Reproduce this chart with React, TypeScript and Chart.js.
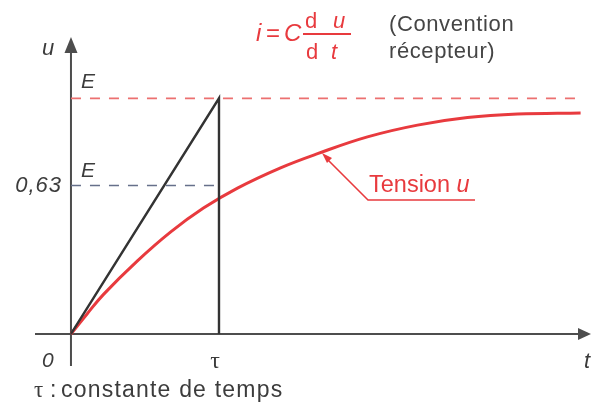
import { useEffect, useRef } from "react";
import { Chart, registerables } from "chart.js";

Chart.register(...registerables);

// Time in units of the time constant τ
const timeTau = [0, 0.11, 0.22, 0.449, 0.672, 0.895, 1.125, 1.416, 1.666, 2.003, 2.341, 2.679, 3.017, 3.443];
// Capacitor voltage u, in units of E
const tensionU = [0, 0.086, 0.168, 0.31, 0.432, 0.534, 0.619, 0.705, 0.765, 0.836, 0.886, 0.918, 0.933, 0.938];

// Tangent at the origin, then the vertical drop at t = τ
const tangentT = [0, 1, 1];
const tangentU = [0, 1, 0];

// Reference levels
const levelE = 1;
const level63 = 0.63;
const asymptoteEnd = 3.443;
const tauValue = 1;

const yTickLabels = ["E", "0,63"];
const xTickLabels = ["0", "τ"];

const RED = "rgb(232,58,62)";
const DASH_RED = "rgb(236,112,112)";
const INK = "#3c3c3c";
const AXIS = "#4d4d4d";

function pts(xs: number[], ys: number[]) {
  return xs.map((x, i) => ({ x, y: ys[i] }));
}

const SANS = '"Liberation Sans", Arial, Helvetica, sans-serif';
const SERIF = '"Liberation Serif", "DejaVu Serif", serif';

const decorations = {
  id: "rcDecorations",
  beforeDatasetsDraw(chart: any) {
    const { ctx, chartArea, scales } = chart;
    const x0 = scales.x.getPixelForValue(0);
    const y0 = scales.y.getPixelForValue(0);
    ctx.save();
    ctx.strokeStyle = AXIS;
    ctx.fillStyle = AXIS;
    ctx.lineWidth = 2;
    // horizontal axis with arrow
    ctx.beginPath();
    ctx.moveTo(chartArea.left, y0);
    ctx.lineTo(chartArea.right - 10, y0);
    ctx.stroke();
    ctx.beginPath();
    ctx.moveTo(chartArea.right - 1, y0);
    ctx.lineTo(chartArea.right - 14, y0 - 6);
    ctx.lineTo(chartArea.right - 14, y0 + 6);
    ctx.closePath();
    ctx.fill();
    // vertical axis with arrow
    ctx.beginPath();
    ctx.moveTo(x0, chartArea.bottom);
    ctx.lineTo(x0, chartArea.top + 10);
    ctx.stroke();
    ctx.beginPath();
    ctx.moveTo(x0, chartArea.top);
    ctx.lineTo(x0 - 6.5, chartArea.top + 16);
    ctx.lineTo(x0 + 6.5, chartArea.top + 16);
    ctx.closePath();
    ctx.fill();
    ctx.restore();
  },
  afterDatasetsDraw(chart: any) {
    const { ctx, scales } = chart;
    const xs = scales.x;
    const ys = scales.y;
    const x0 = xs.getPixelForValue(0);
    const y0 = ys.getPixelForValue(0);
    const yE = ys.getPixelForValue(levelE);
    const y63 = ys.getPixelForValue(level63);
    const xTau = xs.getPixelForValue(tauValue);
    const it = (s: number) => `italic ${s}px ${SANS}`;
    const rg = (s: number) => `${s}px ${SANS}`;

    ctx.save();
    ctx.textBaseline = "alphabetic";
    ctx.fillStyle = INK;

    // axis names
    ctx.font = it(22);
    ctx.textAlign = "left";
    ctx.fillText("u", x0 - 29, 55);
    ctx.fillText("t", 584, y0 + 34);

    // level labels
    ctx.font = it(21);
    ctx.fillText(yTickLabels[0], x0 + 10, yE - 10);
    ctx.fillText(yTickLabels[0], x0 + 10, y63 - 8);
    ctx.font = it(22);
    ctx.letterSpacing = "1px";
    ctx.textAlign = "right";
    ctx.fillText(yTickLabels[1], x0 - 9, y63 + 7);
    ctx.letterSpacing = "0px";

    // origin and τ
    ctx.textAlign = "left";
    ctx.font = it(21);
    ctx.fillText(xTickLabels[0], x0 - 29, y0 + 33);
    ctx.font = `24px ${SERIF}`;
    ctx.textAlign = "center";
    ctx.fillText(xTickLabels[1], xTau - 4, y0 + 34);

    // caption
    ctx.textAlign = "left";
    ctx.font = `23px ${SERIF}`;
    ctx.fillText("τ", 34, 397);
    ctx.font = rg(23);
    ctx.letterSpacing = "1.2px";
    ctx.fillText(":", 50, 397);
    ctx.fillText("constante de temps", 61, 397);
    ctx.letterSpacing = "0px";

    // formula i = C du/dt
    ctx.fillStyle = RED;
    ctx.strokeStyle = RED;
    ctx.font = it(24);
    ctx.fillText("i", 256, 41);
    ctx.font = rg(24);
    ctx.fillText("=", 266, 41);
    ctx.font = it(24);
    ctx.fillText("C", 284, 41);
    ctx.font = rg(22);
    ctx.fillText("d", 305, 28);
    ctx.fillText("d", 306, 59);
    ctx.font = it(22);
    ctx.fillText("u", 333, 28);
    ctx.fillText("t", 331, 59);
    ctx.lineWidth = 1.8;
    ctx.beginPath();
    ctx.moveTo(303, 34);
    ctx.lineTo(351, 34);
    ctx.stroke();

    // convention note
    ctx.fillStyle = "#454545";
    ctx.font = rg(22);
    ctx.letterSpacing = "0.6px";
    ctx.fillText("(Convention", 389, 31);
    ctx.fillText("récepteur)", 389, 58);
    ctx.letterSpacing = "0px";

    // curve label with leader
    ctx.fillStyle = RED;
    ctx.font = rg(23.5);
    ctx.fillText("Tension ", 369, 192);
    const w = ctx.measureText("Tension ").width;
    ctx.font = it(23.5);
    ctx.fillText("u", 369 + w, 192);
    ctx.lineWidth = 1.6;
    ctx.beginPath();
    ctx.moveTo(475, 200);
    ctx.lineTo(368, 200);
    ctx.lineTo(327, 159);
    ctx.stroke();
    ctx.beginPath();
    ctx.moveTo(322, 153);
    ctx.lineTo(332, 158);
    ctx.lineTo(327, 163);
    ctx.closePath();
    ctx.fill();
    ctx.restore();
  },
};

export default function App() {
  const ref = useRef<HTMLCanvasElement | null>(null);

  useEffect(() => {
    if (!ref.current) return;
    const chart = new Chart(ref.current, {
      type: "line",
      data: {
        datasets: [
          {
            label: "E",
            data: [
              { x: 0, y: levelE },
              { x: asymptoteEnd, y: levelE },
            ],
            borderColor: DASH_RED,
            borderWidth: 1.8,
            borderDash: [10, 9],
            pointRadius: 0,
          },
          {
            label: "0,63 E",
            data: [
              { x: 0, y: level63 },
              { x: tauValue, y: level63 },
            ],
            borderColor: "#66708a",
            borderWidth: 1.6,
            borderDash: [10, 9],
            pointRadius: 0,
          },
          {
            label: "Tangente",
            data: pts(tangentT, tangentU),
            borderColor: "#333333",
            borderWidth: 2.4,
            pointRadius: 0,
            tension: 0,
          },
          {
            label: "Tension u",
            data: pts(timeTau, tensionU),
            borderColor: RED,
            borderWidth: 3,
            pointRadius: 0,
            tension: 0.4,
          },
        ],
      },
      options: {
        responsive: false,
        animation: false,
        devicePixelRatio: 1,
        layout: { padding: { left: 35, top: 37, right: 0, bottom: 40 } },
        plugins: { legend: { display: false }, tooltip: { enabled: false }, title: { display: false } },
        scales: {
          x: { type: "linear", min: -0.243, max: 3.52, display: false },
          y: { type: "linear", min: -0.136, max: 1.26, display: false },
        },
      },
      plugins: [decorations],
    });
    return () => chart.destroy();
  }, []);

  return (
    <div style={{ position: "absolute", left: 0, top: 0, width: 592, height: 406, background: "#fff" }}>
      <canvas ref={ref} width={592} height={406} />
    </div>
  );
}
